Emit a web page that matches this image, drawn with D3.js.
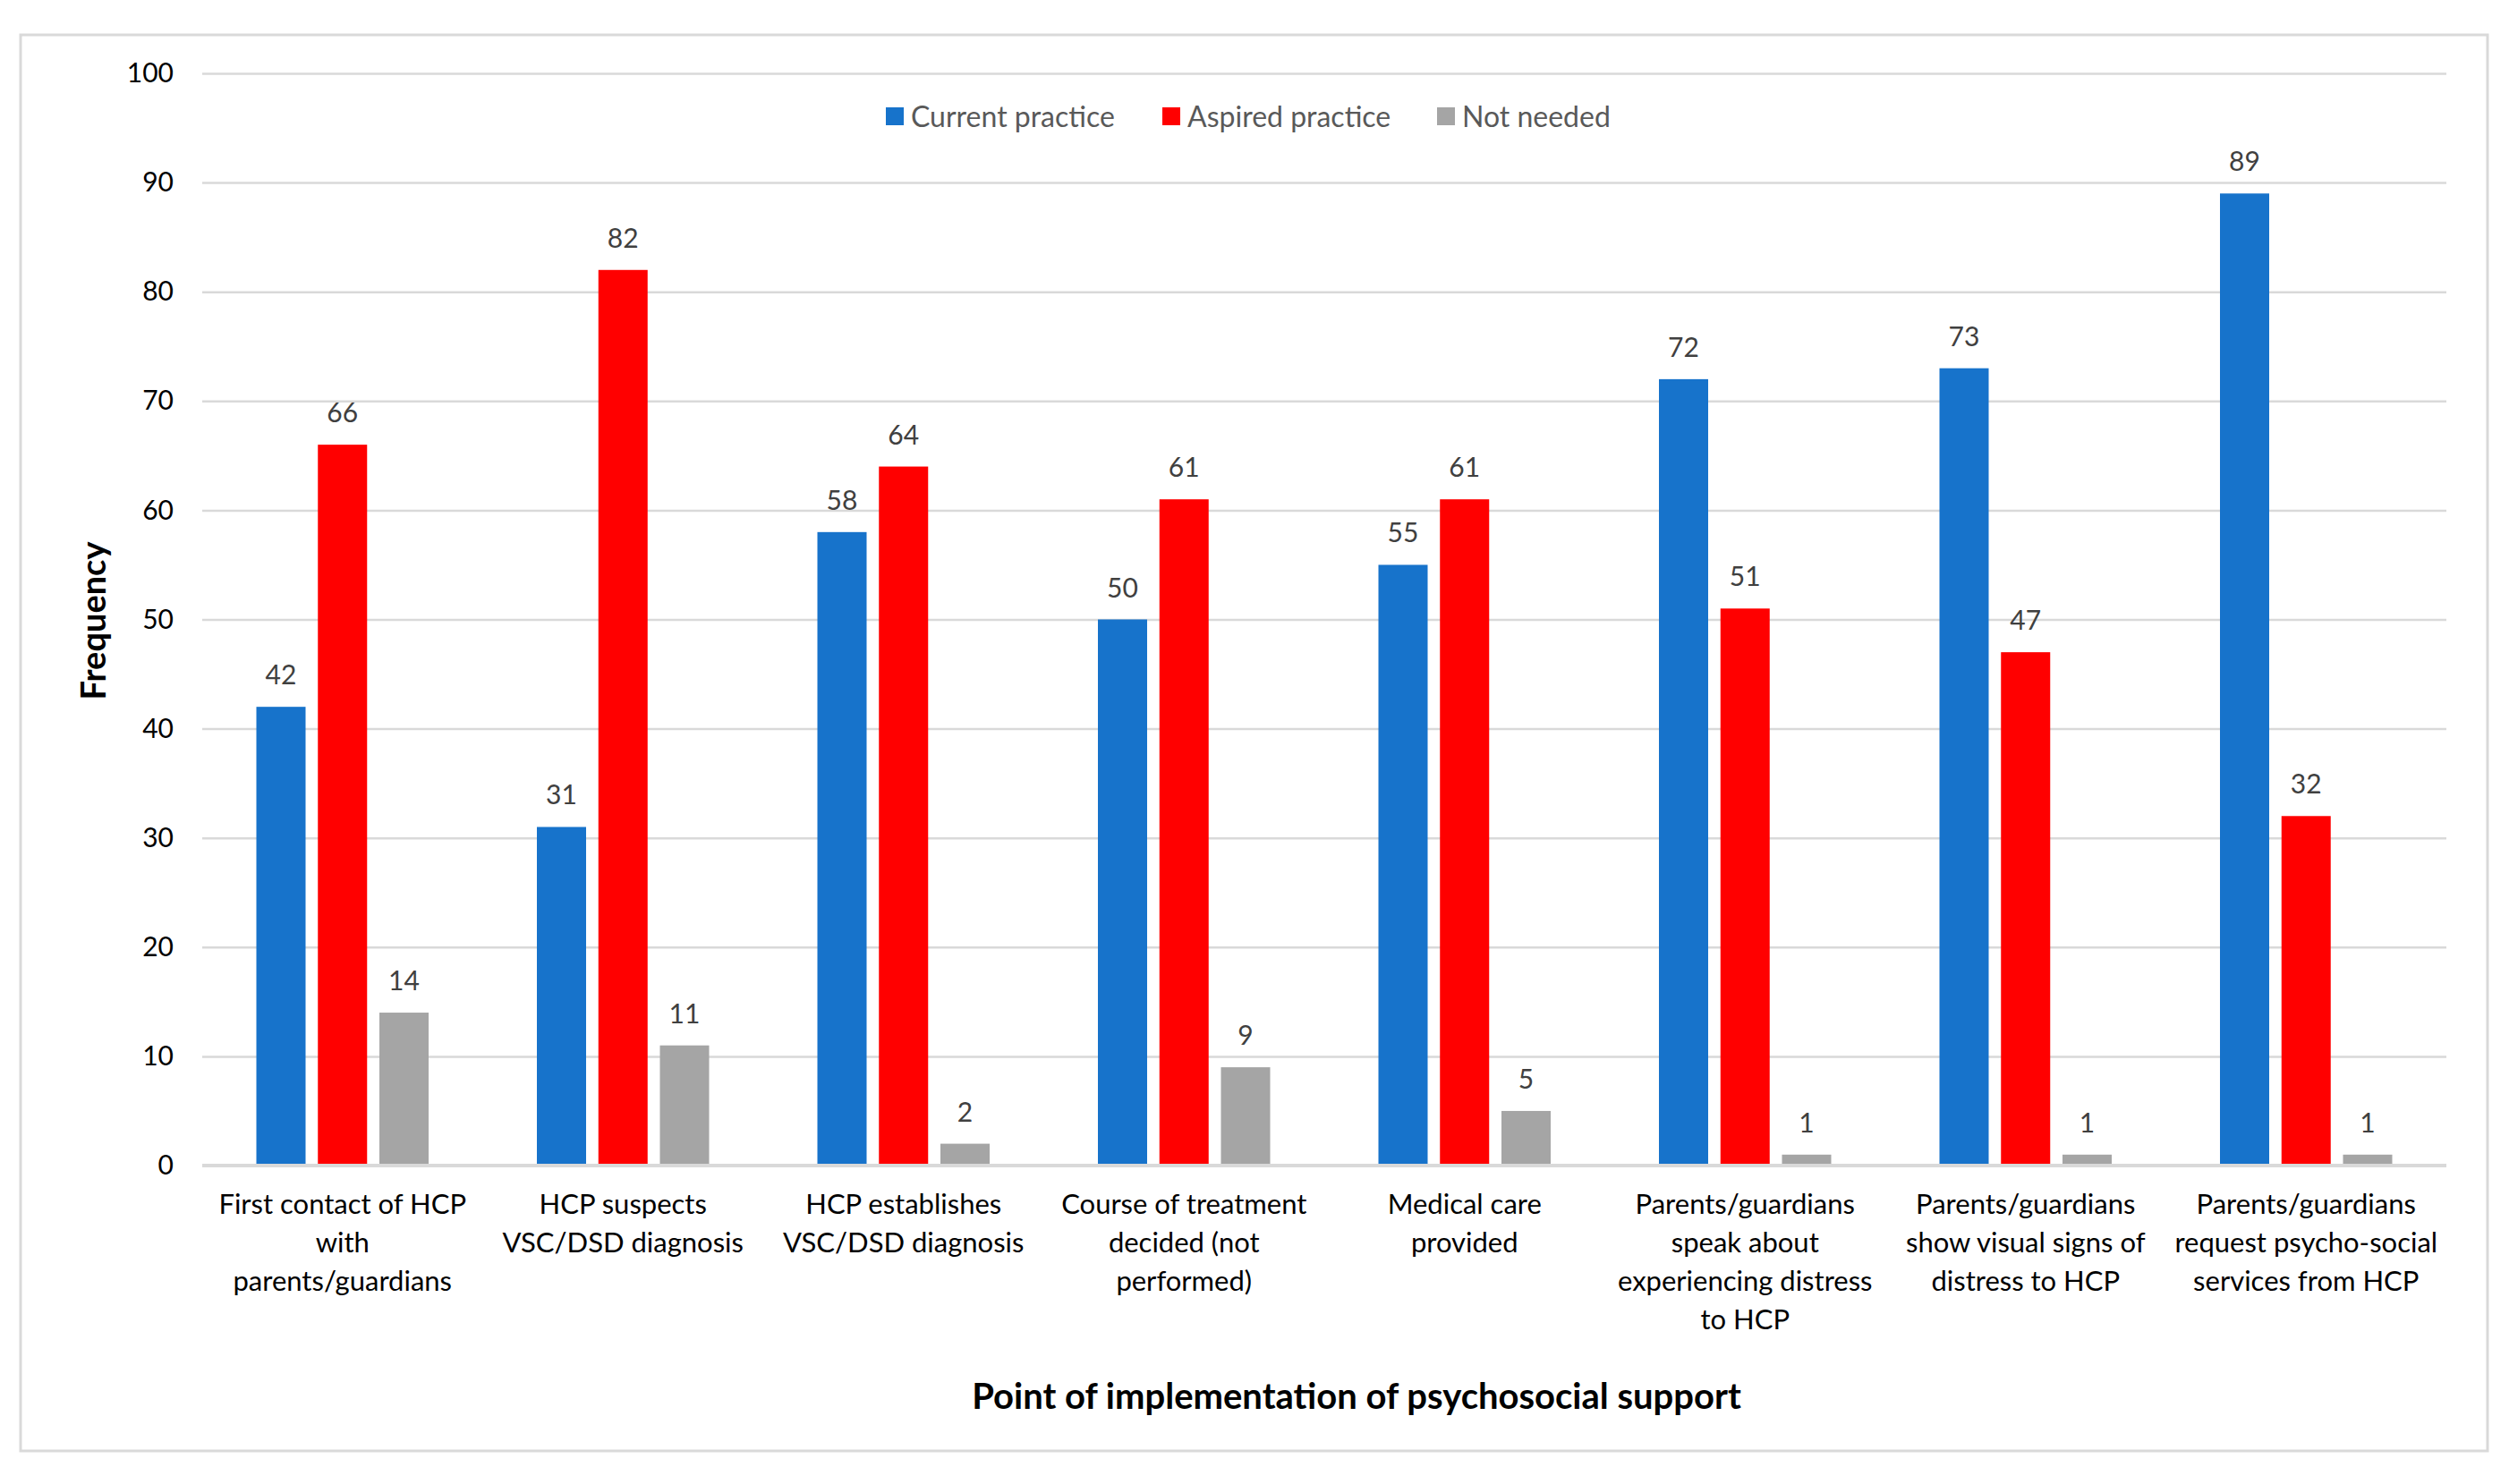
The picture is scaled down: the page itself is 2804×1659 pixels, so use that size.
<!DOCTYPE html>
<html>
<head>
<meta charset="utf-8">
<script src="https://cdn.jsdelivr.net/npm/d3@7"></script>
<style>
  body { margin: 0; background: #fff; }
  text { font-family: Lato, "Liberation Sans", sans-serif; }
</style>
</head>
<body>
<div id="chart"></div>
<script>
// chart data
const categories = [
  ["First contact of HCP", "with", "parents/guardians"],
  ["HCP suspects", "VSC/DSD diagnosis"],
  ["HCP establishes", "VSC/DSD diagnosis"],
  ["Course of treatment", "decided (not", "performed)"],
  ["Medical care", "provided"],
  ["Parents/guardians", "speak about", "experiencing distress", "to HCP"],
  ["Parents/guardians", "show visual signs of", "distress to HCP"],
  ["Parents/guardians", "request psycho-social", "services from HCP"]
];
const seriesNames = ["Current practice", "Aspired practice", "Not needed"];
const currentPractice = [42, 31, 58, 50, 55, 72, 73, 89];
const aspiredPractice = [66, 82, 64, 61, 61, 51, 47, 32];
const notNeeded = [14, 11, 2, 9, 5, 1, 1, 1];
const yTicks = [0, 10, 20, 30, 40, 50, 60, 70, 80, 90, 100];
const colors = ["#1773CB", "#FF0000", "#A5A5A5"];

const allSeries = [currentPractice, aspiredPractice, notNeeded];

const W = 2804, H = 1659;
const plot = { left: 226, right: 2734, top: 82, bottom: 1303 };

const svg = d3.select("#chart").append("svg")
  .attr("width", W)
  .attr("height", H);

svg.append("rect").attr("width", W).attr("height", H).attr("fill", "#fff");

// outer chart border
svg.append("rect")
  .attr("x", 23).attr("y", 39)
  .attr("width", 2780 - 23).attr("height", 1622 - 39)
  .attr("fill", "none")
  .attr("stroke", "#D9D9D9")
  .attr("stroke-width", 3);

const idx = d3.range(categories.length);

const x = d3.scaleBand()
  .domain(idx)
  .range([plot.left, plot.right]);

const x1 = d3.scaleBand()
  .domain(d3.range(seriesNames.length))
  .range([0, x.bandwidth()])
  .paddingInner(0.2)
  .paddingOuter(0.88);

const y = d3.scaleLinear()
  .domain([0, 100])
  .range([plot.bottom, plot.top]);

// gridlines
const yAxis = d3.axisLeft(y)
  .tickValues(yTicks)
  .tickSize(-(plot.right - plot.left))
  .tickPadding(32);

const gy = svg.append("g")
  .attr("transform", `translate(${plot.left},0)`)
  .call(yAxis);
gy.select(".domain").remove();
gy.selectAll(".tick line")
  .attr("stroke", "#D9D9D9")
  .attr("stroke-width", 2.5);
gy.selectAll(".tick text")
  .attr("fill", "#000")
  .style("font-size", "30px");

// bars
allSeries.forEach((vals, s) => {
  svg.append("g")
    .selectAll("rect")
    .data(vals)
    .join("rect")
    .attr("x", (d, i) => x(i) + x1(s))
    .attr("y", d => y(d))
    .attr("width", x1.bandwidth())
    .attr("height", d => y(0) - y(d))
    .attr("fill", colors[s]);

  svg.append("g")
    .selectAll("text")
    .data(vals)
    .join("text")
    .attr("x", (d, i) => x(i) + x1(s) + x1.bandwidth() / 2)
    .attr("y", d => y(d) - 25)
    .attr("text-anchor", "middle")
    .attr("fill", "#404040")
    .style("font-size", "30px")
    .text(d => d);
});

// baseline
svg.append("line")
  .attr("x1", plot.left).attr("x2", plot.right)
  .attr("y1", y(0)).attr("y2", y(0))
  .attr("stroke", "#D9D9D9")
  .attr("stroke-width", 4);

// category labels
const catG = svg.append("g");
categories.forEach((lines, i) => {
  const t = catG.append("text")
    .attr("text-anchor", "middle")
    .attr("fill", "#000")
    .style("font-size", "31px");
  lines.forEach((ln, k) => {
    t.append("tspan")
      .attr("x", x(i) + x.bandwidth() / 2)
      .attr("y", 1357 + k * 43)
      .text(ln);
  });
});

// axis titles
svg.append("text")
  .attr("x", 1516).attr("y", 1575)
  .attr("text-anchor", "middle")
  .attr("font-weight", "bold")
  .style("font-size", "40px")
  .text("Point of implementation of psychosocial support");

svg.append("text")
  .attr("transform", `translate(118,694) rotate(-90)`)
  .attr("text-anchor", "middle")
  .attr("font-weight", "bold")
  .style("font-size", "38px")
  .text("Frequency");

// legend
const legendX = [990, 1299, 1606];
const legend = svg.append("g");
seriesNames.forEach((name, s) => {
  legend.append("rect")
    .attr("x", legendX[s]).attr("y", 120)
    .attr("width", 20).attr("height", 20)
    .attr("fill", colors[s]);
  legend.append("text")
    .attr("x", legendX[s] + 28).attr("y", 142)
    .attr("fill", "#595959")
    .style("font-size", "32px")
    .text(name);
});
</script>
</body>
</html>
